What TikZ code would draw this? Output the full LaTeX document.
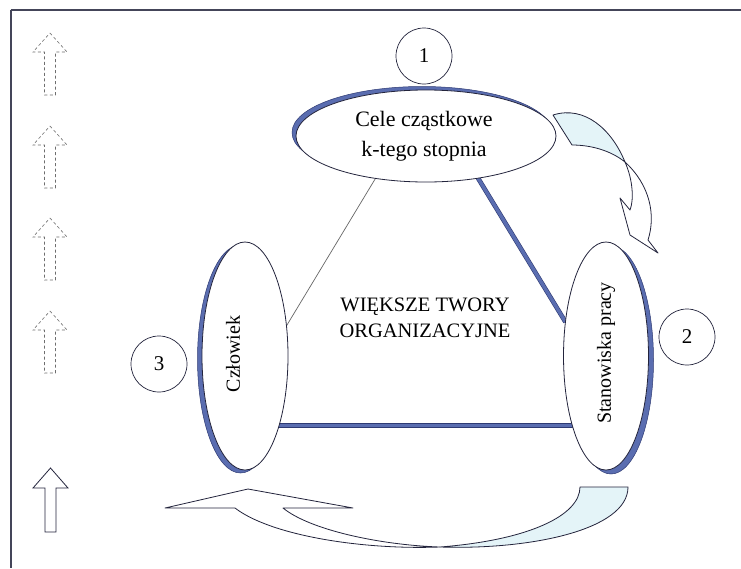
\documentclass[tikz,border=0pt]{standalone}
\usepackage{fontspec}
\setmainfont{Liberation Serif}
\usetikzlibrary{shapes.geometric,shadows,backgrounds}

\definecolor{inkc}{HTML}{23243C}
\definecolor{shadowblue}{HTML}{5A6DB0}
\definecolor{shadowedge}{HTML}{2E3A73}
\definecolor{tailfill}{HTML}{E4F4F8}
\definecolor{greyline}{HTML}{666666}
\definecolor{dashgrey}{HTML}{6E6E6E}

\tikzset{
  pics/uparrow/.style={code={
    \draw[#1] (0,0) -- (17,19) -- (5.5,19) -- (5.5,62) -- (-5.5,62)
              -- (-5.5,19) -- (-17,19) -- cycle;
  }},
  dashedarrow/.style={draw=dashgrey, line width=0.6pt, dash pattern=on 3pt off 2.5pt},
  solidarrow/.style={draw=inkc, line width=0.8pt},
  bubble/.style={ellipse, draw=inkc, line width=0.8pt, fill=white,
                 inner sep=0pt, outer sep=0pt},
  blueshadow/.style={drop shadow={shadow scale=1, #1, fill=shadowblue,
                     draw=shadowedge, line width=0.5pt, opacity=1}},
  numcircle/.style={circle, draw=inkc, line width=0.7pt, minimum size=56pt,
                    inner sep=0pt, font=\fontsize{21}{21}\selectfont},
  bluebar/.style={draw=shadowedge, line width=0.6pt, double=shadowblue,
                  double distance=3.4pt},
  thinbar/.style={draw=greyline, line width=0.7pt},
  ribbon/.style={draw=inkc, line width=0.8pt, line join=round},
  label20/.style={font=\fontsize{20}{25}\selectfont, inner sep=0pt},
}

\begin{document}
\begin{tikzpicture}[x=1pt,y=-1pt]
\useasboundingbox (0,0) rectangle (741,568);

% frame
\draw[inkc!85, line width=2pt] (10.5,10) -- (741,10);
\draw[inkc!85, line width=1.3pt] (11,10) -- (11,568);

% column of upward arrows on the left
\pic at (50,33)  {uparrow=dashedarrow};
\pic at (50,126) {uparrow=dashedarrow};
\pic at (50,218) {uparrow=dashedarrow};
\pic at (50,311) {uparrow=dashedarrow};
\draw[solidarrow] (50.5,468) -- (68,488) -- (56,488) -- (56,532) -- (45,532)
      -- (45,488) -- (33,488) -- cycle;

% the three ellipses
\node[bubble, minimum width=260pt, minimum height=92pt,
      blueshadow={shadow xshift=-4pt, shadow yshift=3.5pt}] (goals) at (426,136) {};
\node[bubble, minimum width=86pt, minimum height=228pt,
      blueshadow={shadow xshift=-4.5pt, shadow yshift=-3pt}] (human) at (245,356) {};
\node[bubble, minimum width=85pt, minimum height=228pt,
      blueshadow={shadow xshift=5pt, shadow yshift=-4pt}] (posts) at (606,356) {};

\node[font=\fontsize{22}{30}\selectfont, align=center, inner sep=0pt] (goalstext)
      at (424,136) {Cele cząstkowe\\k-tego stopnia};
\node[label20, rotate=90] (humantext) at (233,354) {Człowiek};
\node[label20, rotate=90] (poststext) at (606,353) {Stanowiska pracy};
\node[label20, align=center, font=\fontsize{20.5}{26}\selectfont] (centre)
      at (425,318) {WIĘKSZE TWORY\\ORGANIZACYJNE};

% numbered circles
\node[numcircle] (n1) at (424,56) {1};
\node[numcircle] (n2) at (687,337) {2};
\node[numcircle] (n3) at (159,364) {3};

% connectors between the ellipses, kept underneath the ellipses
\coordinate (baseL) at (human.-64.7);
\coordinate (baseR) at (baseL -| posts.-115);
\begin{scope}[on background layer]
  \fill[white] (0,0) rectangle (741,568);
  \draw[thinbar] (goals.220) -- (human.36);
  \draw[bluebar] (goals.321) -- (posts.140.6);
  \draw[bluebar] (baseL) -- (baseR);
\end{scope}

% curved ribbon arrow, top right
\filldraw[ribbon, fill=tailfill] (553,115) .. controls (585,105) and (612,130) .. (625,162)
      .. controls (610,150) and (590,145) .. (572,145) -- cycle;
\filldraw[ribbon, fill=white] (625,162) .. controls (633,180) and (634,200) .. (630,210)
      -- (620,198) -- (630,235) -- (658,253) -- (648,240)
      .. controls (656,215) and (650,185) .. (625,162) -- cycle;

% curved ribbon arrow, bottom
\filldraw[ribbon, fill=tailfill] (580,487) -- (628,487)
      .. controls (628,530) and (530,550) .. (440,547)
      .. controls (530,540) and (580,515) .. (580,487) -- cycle;
\filldraw[ribbon, fill=white] (440,547) .. controls (360,550) and (270,535) .. (235,508)
      -- (165,508) -- (248,489) -- (353,508) -- (283,508)
      .. controls (310,530) and (380,545) .. (440,547) -- cycle;
\end{tikzpicture}
\end{document}
